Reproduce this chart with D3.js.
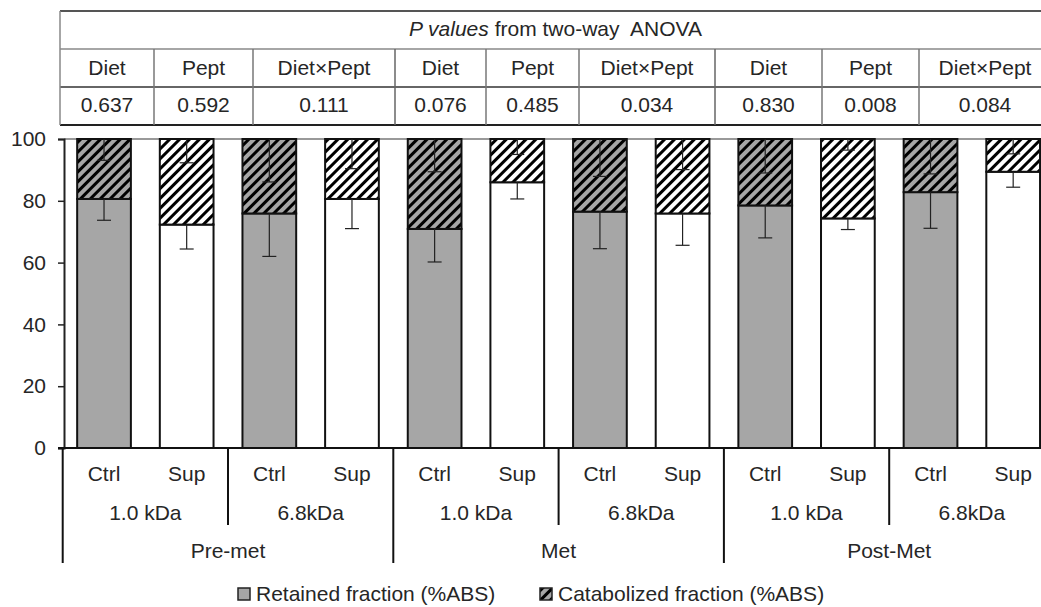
<!DOCTYPE html>
<html>
<head>
<meta charset="utf-8">
<script src="https://cdn.jsdelivr.net/npm/d3@7"></script>
<style>
  body { margin: 0; background: #fff; }
  text { font-family: "Liberation Sans", Arial, sans-serif; fill: #262626; }
</style>
</head>
<body>
<div id="my_dataviz"></div>
<script>
const width = 1041
const height = 607
const fs = "21px"

// data
const periods = ["Pre-met", "Met", "Post-Met"]
const sizes = ["1.0 kDa", "6.8kDa"]
const treatments = ["Ctrl", "Sup"]
const retained      = [80.6, 72.3, 75.9, 80.6, 70.9, 86.0, 76.5, 75.9, 78.5, 74.3, 82.8, 89.4]
const retainedSD    = [6.9, 7.9, 13.9, 9.6, 10.7, 5.4, 12.0, 10.3, 10.5, 3.6, 11.7, 5.0]
const catabolized   = [19.4, 27.7, 24.1, 19.4, 29.1, 14.0, 23.5, 24.1, 21.5, 25.7, 17.2, 10.6]
const catabolizedSD = [6.9, 7.7, 13.9, 9.6, 10.6, 5.0, 12.1, 9.9, 11.0, 3.6, 11.3, 4.8]
const effects = ["Diet", "Pept", "Diet×Pept"]
const pValues = [["0.637", "0.592", "0.111"], ["0.076", "0.485", "0.034"], ["0.830", "0.008", "0.084"]]
const yTicks = [0, 20, 40, 60, 80, 100]
const seriesNames = ["Retained fraction (%ABS)", "Catabolized fraction (%ABS)"]

// layout of the ANOVA table (column edges, not aligned with the bars)
const tableCols = [60, 154, 253, 395, 486, 579, 715, 822, 919, 1051]
const tableRows = [11, 49, 87, 125]

const grey = "#a6a6a6"

const svg = d3.select("#my_dataviz")
  .append("svg")
    .attr("width", width)
    .attr("height", height)

const defs = svg.append("defs")
function hatch(id, bg) {
  const p = defs.append("pattern")
    .attr("id", id)
    .attr("patternUnits", "userSpaceOnUse")
    .attr("width", 7).attr("height", 7)
    .attr("patternTransform", "rotate(45)")
  p.append("rect").attr("width", 7).attr("height", 7).attr("fill", bg)
  p.append("line").attr("x1", 1.5).attr("x2", 1.5).attr("y1", 0).attr("y2", 7)
    .attr("stroke", "#000").attr("stroke-width", 3)
}
hatch("hatchGrey", grey)
hatch("hatchWhite", "#fff")

// rows of the chart
const data = []
periods.forEach(p => sizes.forEach(s => treatments.forEach(t => {
  const i = data.length
  data.push({ key: p + "|" + s + "|" + t, period: p, size: s, treat: t,
    ret: retained[i], retSD: retainedSD[i], cat: catabolized[i], catSD: catabolizedSD[i] })
})))

const x = d3.scaleBand()
  .domain(data.map(d => d.key))
  .range([62.7, 1054.5])
  .paddingInner(0.35)
  .paddingOuter(0.175)

const y = d3.scaleLinear().domain([0, 100]).range([448, 139])

// ---- table ----
const table = svg.append("g")
table.append("line").attr("x1", tableCols[0]).attr("x2", width).attr("y1", tableRows[0]).attr("y2", tableRows[0])
  .attr("stroke", "#555").attr("stroke-width", 2)
table.append("line").attr("x1", tableCols[0]).attr("x2", width).attr("y1", tableRows[1]).attr("y2", tableRows[1])
  .attr("stroke", "#888").attr("stroke-width", 1.5)
table.append("line").attr("x1", tableCols[0]).attr("x2", width).attr("y1", tableRows[2]).attr("y2", tableRows[2])
  .attr("stroke", "#333").attr("stroke-width", 1.5)
table.append("line").attr("x1", tableCols[0]).attr("x2", width).attr("y1", tableRows[3]).attr("y2", tableRows[3])
  .attr("stroke", "#222").attr("stroke-width", 2)
table.append("line").attr("x1", tableCols[0]).attr("x2", tableCols[0]).attr("y1", tableRows[0]).attr("y2", tableRows[3])
  .attr("stroke", "#888").attr("stroke-width", 1.5)
table.selectAll(".vsep")
  .data(tableCols.slice(1, -1))
  .join("line")
    .attr("x1", d => d).attr("x2", d => d)
    .attr("y1", tableRows[1]).attr("y2", tableRows[3])
    .attr("stroke", (d, i) => (i % 3 == 2) ? "#666" : "#777")
    .attr("stroke-width", 1.5)

const head = table.append("text")
  .attr("x", (tableCols[0] + tableCols[9]) / 2)
  .attr("y", 36)
  .attr("text-anchor", "middle")
  .style("font-size", fs)
head.append("tspan").style("font-style", "italic").text("P values")
head.append("tspan").text(" from two-way\u00a0 ANOVA")

const cells = []
periods.forEach((p, gi) => effects.forEach((e, ei) => {
  cells.push({ label: e, value: pValues[gi][ei], x0: tableCols[gi * 3 + ei], x1: tableCols[gi * 3 + ei + 1] })
}))
table.selectAll(".eff")
  .data(cells)
  .join("text")
    .attr("x", d => (d.x0 + d.x1) / 2)
    .attr("y", 75)
    .attr("text-anchor", "middle")
    .style("font-size", fs)
    .text(d => d.label)
table.selectAll(".pv")
  .data(cells)
  .join("text")
    .attr("x", d => (d.x0 + d.x1) / 2)
    .attr("y", 112)
    .attr("text-anchor", "middle")
    .style("font-size", fs)
    .text(d => d.value)

// ---- plot ----
// top border of plot area
svg.append("line")
  .attr("x1", 64).attr("x2", width).attr("y1", y(100)).attr("y2", y(100))
  .attr("stroke", "#777").attr("stroke-width", 1.5)

const bars = svg.append("g")
bars.selectAll(".ret")
  .data(data)
  .join("rect")
    .attr("x", d => x(d.key))
    .attr("width", x.bandwidth())
    .attr("y", d => y(d.ret))
    .attr("height", d => y(0) - y(d.ret))
    .attr("fill", d => d.treat == "Ctrl" ? grey : "#fff")
    .attr("stroke", "#111")
    .attr("stroke-width", 2)
bars.selectAll(".cat")
  .data(data)
  .join("rect")
    .attr("x", d => x(d.key))
    .attr("width", x.bandwidth())
    .attr("y", d => y(d.ret + d.cat))
    .attr("height", d => y(d.ret) - y(d.ret + d.cat))
    .attr("fill", d => d.treat == "Ctrl" ? "url(#hatchGrey)" : "url(#hatchWhite)")
    .attr("stroke", "#111")
    .attr("stroke-width", 2)

// error bars (minus side only)
const errs = []
data.forEach(d => {
  errs.push({ key: d.key, top: d.ret, bot: d.ret - d.retSD })
  errs.push({ key: d.key, top: d.ret + d.cat, bot: d.ret + d.cat - d.catSD })
})
const eg = svg.append("g").attr("stroke", "#222").attr("stroke-width", 1.2)
eg.selectAll(".ev")
  .data(errs)
  .join("line")
    .attr("x1", d => x(d.key) + x.bandwidth() / 2)
    .attr("x2", d => x(d.key) + x.bandwidth() / 2)
    .attr("y1", d => y(d.top))
    .attr("y2", d => y(d.bot))
eg.selectAll(".ec")
  .data(errs)
  .join("line")
    .attr("x1", d => x(d.key) + x.bandwidth() / 2 - 7)
    .attr("x2", d => x(d.key) + x.bandwidth() / 2 + 7)
    .attr("y1", d => y(d.bot))
    .attr("y2", d => y(d.bot))

// y axis
const yAxis = svg.append("g")
  .attr("transform", "translate(64,0)")
  .call(d3.axisLeft(y).tickValues(yTicks).tickSize(6).tickPadding(12))
yAxis.select(".domain").attr("stroke", "#222").attr("stroke-width", 2)
yAxis.selectAll(".tick line").attr("stroke", "#222").attr("stroke-width", 1.5)
yAxis.selectAll(".tick text")
  .style("font-size", fs)
  .style("font-family", "'Liberation Sans', Arial, sans-serif")
  .attr("fill", "#262626")

// x axis line
svg.append("line")
  .attr("x1", 58).attr("x2", width).attr("y1", y(0)).attr("y2", y(0))
  .attr("stroke", "#111").attr("stroke-width", 2)

// multi-level category labels
const xl = svg.append("g")
xl.selectAll(".lv1")
  .data(data)
  .join("text")
    .attr("x", d => x(d.key) + x.bandwidth() / 2)
    .attr("y", 481)
    .attr("text-anchor", "middle")
    .style("font-size", fs)
    .text(d => d.treat)

const step = x.step()
const x0 = x.range()[0]
const pairs = []
periods.forEach((p, gi) => sizes.forEach((s, si) => pairs.push({ label: s, i: gi * 2 + si })))
xl.selectAll(".lv2")
  .data(pairs)
  .join("text")
    .attr("x", d => x0 + step * (d.i * 2 + 1))
    .attr("y", 520)
    .attr("text-anchor", "middle")
    .style("font-size", fs)
    .text(d => d.label)
xl.selectAll(".lv3")
  .data(periods)
  .join("text")
    .attr("x", (d, i) => x0 + step * (i * 4 + 2))
    .attr("y", 558)
    .attr("text-anchor", "middle")
    .style("font-size", fs)
    .text(d => d)

// separator lines under the axis
const seps = d3.range(0, 13, 2)
xl.selectAll(".sep")
  .data(seps)
  .join("line")
    .attr("x1", d => x0 + step * d)
    .attr("x2", d => x0 + step * d)
    .attr("y1", y(0))
    .attr("y2", d => d % 4 == 0 ? 563 : 525)
    .attr("stroke", "#111")
    .attr("stroke-width", 2)

// legend
const legend = svg.append("g")
const legX = [238, 540]
legend.selectAll("rect")
  .data(seriesNames)
  .join("rect")
    .attr("x", (d, i) => legX[i])
    .attr("y", 588)
    .attr("width", 12)
    .attr("height", 12)
    .attr("fill", (d, i) => i == 0 ? grey : "url(#hatchGrey)")
    .attr("stroke", "#222")
    .attr("stroke-width", 1.5)
legend.selectAll("text")
  .data(seriesNames)
  .join("text")
    .attr("x", (d, i) => legX[i] + 18)
    .attr("y", 601)
    .style("font-size", fs)
    .text(d => d)
</script>
</body>
</html>
